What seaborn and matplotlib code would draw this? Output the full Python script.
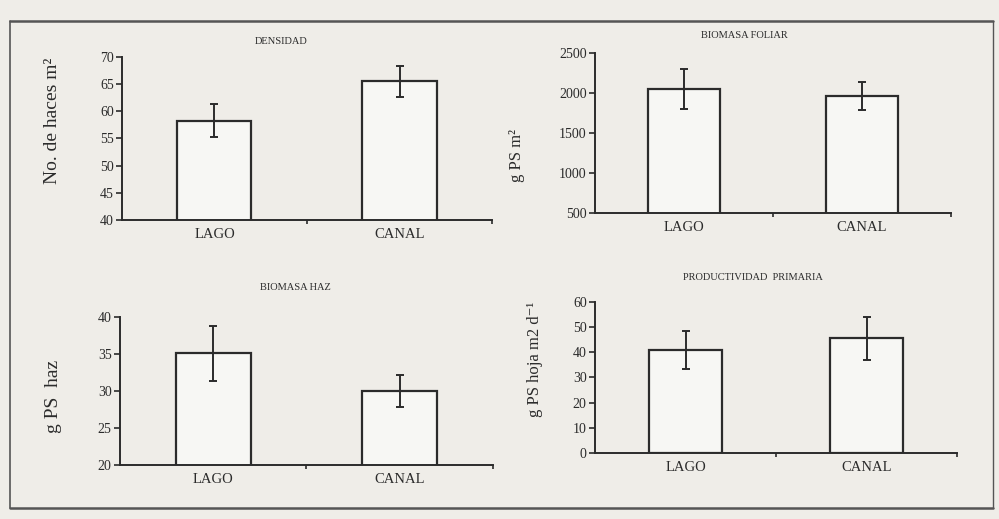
import numpy as np
import pandas as pd
import matplotlib
matplotlib.use("Agg")
import matplotlib.pyplot as plt
from matplotlib.lines import Line2D
import seaborn as sns

# ── data ──
sitios = ["LAGO", "CANAL"]

densidad = [58.3, 65.5]
densidad_err = [3.0, 2.8]

biomasa_foliar = [2050, 1960]
biomasa_foliar_err = [250, 175]

biomasa_haz = [35.1, 30.0]
biomasa_haz_err = [3.7, 2.2]

productividad = [41.0, 45.5]
productividad_err = [7.5, 8.5]

titulos = ["DENSIDAD", "BIOMASA FOLIAR", "BIOMASA HAZ", "PRODUCTIVIDAD  PRIMARIA"]
ylabels = ["No. de haces m²", "g PS m²", "g PS  haz", "g PS hoja m2 d⁻¹"]
ylims = [(40, 70), (500, 2500), (20, 40), (0, 60)]
yticks = [np.arange(40, 71, 5), np.arange(500, 2501, 500),
          np.arange(20, 41, 5), np.arange(0, 61, 10)]

sns.set_theme(style="white")
plt.rcParams["font.family"] = ["Liberation Serif", "DejaVu Serif"]

PAPER = "#efede8"
INK = "#2b2b2b"

fig = plt.figure(figsize=(9.99, 5.19), dpi=100, facecolor=PAPER)

# axes boxes (left, bottom, width, height) in figure fractions
boxes = [
    [0.1221, 0.5761, 0.3704, 0.3141],
    [0.5956, 0.5896, 0.3564, 0.3083],
    [0.1201, 0.1040, 0.3734, 0.2852],
    [0.5956, 0.1272, 0.3624, 0.2909],
]
title_pos = [(0.43, 1.092), (0.42, 1.11), (0.47, 1.196), (0.436, 1.16)]
label_pos = [(-0.164, 0.61), (-0.197, 0.36), (-0.156, 0.46), (-0.144, 0.62)]
label_size = [14, 12, 14, 12]

series = [
    (densidad, densidad_err),
    (biomasa_foliar, biomasa_foliar_err),
    (biomasa_haz, biomasa_haz_err),
    (productividad, productividad_err),
]

for i, (vals, errs) in enumerate(series):
    ax = fig.add_axes(boxes[i])
    ax.set_facecolor(PAPER)
    df = pd.DataFrame({"sitio": sitios, "valor": vals})
    sns.barplot(data=df, x="sitio", y="valor", ax=ax, width=0.4,
                color="#f8f7f3", edgecolor=INK, linewidth=1.6,
                errorbar=None)
    ax.errorbar(np.arange(len(sitios)), vals, yerr=errs, fmt="none",
                ecolor=INK, elinewidth=1.4, capsize=3, capthick=1.4)

    ax.set_xlim(-0.5, 1.5)
    ax.set_ylim(*ylims[i])
    ax.set_yticks(yticks[i])
    ax.set_xlabel("")
    ax.set_ylabel(ylabels[i], fontsize=label_size[i], color=INK)
    ax.yaxis.set_label_coords(*label_pos[i])

    for s in ["top", "right"]:
        ax.spines[s].set_visible(False)
    for s in ["left", "bottom"]:
        ax.spines[s].set_color(INK)
        ax.spines[s].set_linewidth(1.4)

    ax.tick_params(axis="y", direction="out", length=4, width=1.2,
                   colors=INK, labelsize=10, pad=2, left=True)
    ax.tick_params(axis="x", length=0, labelsize=10.5, colors=INK, pad=6)
    ax.set_xticks([0.5, 1.5], minor=True)
    ax.tick_params(axis="x", which="minor", direction="out", length=3,
                   width=1.2, colors=INK, bottom=True)

    ax.text(title_pos[i][0], title_pos[i][1], titulos[i], transform=ax.transAxes,
            ha="center", va="center", fontsize=7.5, color=INK)

# outer frame of the scanned figure
x0, x1 = 10 / 999, 993 / 999
y0, y1 = 1 - 508 / 519, 1 - 21 / 519
for xs, ys, lw in [([x0, x1], [y1, y1], 1.8), ([x0, x1], [y0, y0], 1.8),
                   ([x0, x0], [y0, y1], 1.2), ([x1, x1], [y0, y1], 1.0)]:
    fig.add_artist(Line2D(xs, ys, transform=fig.transFigure, color="#555555",
                          lw=lw))

fig.savefig("out.png", dpi=100, facecolor=PAPER)
